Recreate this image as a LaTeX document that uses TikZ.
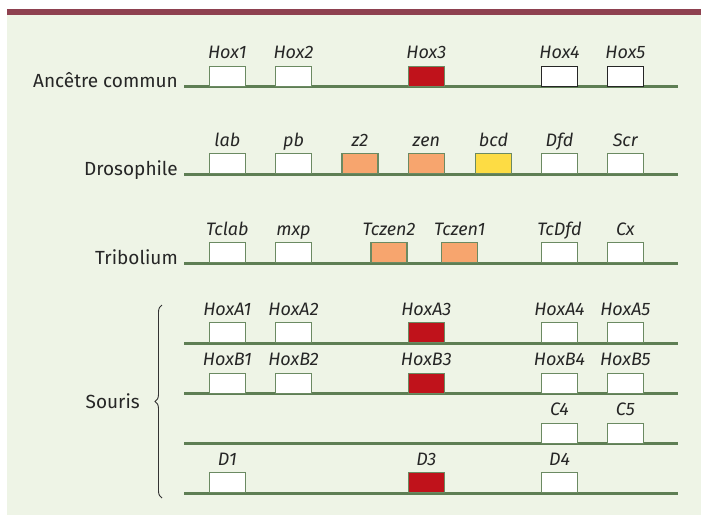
\documentclass[tikz,border=0pt]{standalone}
\usepackage{fontspec}
\setmainfont{Fira Sans}
\usetikzlibrary{decorations.pathreplacing}

\tikzstyle{gene-box}=[draw={box-border}, line width=1.1pt, fill=white, minimum width=36pt, minimum height=20pt, inner sep=0pt, anchor=south]
% gene names: baseline a few points above the box
\tikzstyle{every label}=[font=\itshape\fontsize{18}{18}\selectfont, inner sep=0pt, text depth=0pt, text=black!85, yshift=7pt]
\tikzstyle{row-name}=[font=\fontsize{19}{19}\selectfont, inner sep=0pt, anchor=base east, text=black!85]
\tikzstyle{chromosome}=[draw={chrom-green}, line width=3pt]
\definecolor{page-green}{HTML}{EEF4E6}
\definecolor{top-bar}{HTML}{8E4150}
\definecolor{chrom-green}{HTML}{5E7E54}
\definecolor{box-border}{HTML}{6B8A62}
\definecolor{gene-red}{HTML}{C0121B}
\definecolor{gene-orange}{HTML}{F7A56E}
\definecolor{gene-yellow}{HTML}{FDDC44}

\begin{document}
\begin{tikzpicture}[x=1pt, y=-1pt]
      \useasboundingbox (0, 0) rectangle (701, 515);
      \fill[page-green] (7, 14.7) rectangle (701, 515);
      \fill[top-bar] (7, 9.3) rectangle (701, 14.7);

      % chromosomes
      \foreach \row/\y in {anc/86.7, dros/174.3, trib/263.3, hoxa/343.3, hoxb/393.7, hoxc/443.7, hoxd/493.3} {
        \coordinate (\row-w) at (184, \y);
        \coordinate (\row-e) at (678, \y);
        \draw[chromosome] (\row-w) -- (\row-e);
      }

      % row names
      \node (anc-name) at (178, 87.5) [row-name] {Ancêtre commun};
      \node (dros-name) at (178, 175.1) [row-name] {Drosophile};
      \node (trib-name) at (178, 264.1) [row-name] {Tribolium};
      \node (souris-name) at (140, 408) [row-name] {Souris};
      \draw[black!80, line width=0.9pt, decorate, decoration={brace, amplitude=7pt}]
            (162, 498) -- (162, 305);

      % ancestor
      \node (hox1) at (227.3, 86.7) [gene-box, label=above:{Hox1}] {};
      \node (hox2) at (293.5, 86.7) [gene-box, label=above:{Hox2}] {};
      \node (hox3) at (426.3, 86.7) [gene-box, fill={gene-red}, label=above:{Hox3}] {};
      \node (hox4) at (559.5, 86.7) [gene-box, draw=black!85, label=above:{Hox4}] {};
      \node (hox5) at (625.3, 86.7) [gene-box, draw=black!85, label=above:{Hox5}] {};

      % drosophila
      \node (lab) at (227.3, 174.3) [gene-box, label=above:{lab}] {};
      \node (pb) at (293.5, 174.3) [gene-box, label=above:{pb}] {};
      \node (z2) at (360, 174.3) [gene-box, fill={gene-orange}, label=above:{z2}] {};
      \node (zen) at (426.3, 174.3) [gene-box, fill={gene-orange}, label=above:{zen}] {};
      \node (bcd) at (493.5, 174.3) [gene-box, fill={gene-yellow}, label=above:{bcd}] {};
      \node (dfd) at (559.5, 174.3) [gene-box, label=above:{Dfd}] {};
      \node (scr) at (625.3, 174.3) [gene-box, label=above:{Scr}] {};

      % tribolium
      \node (tclab) at (227.3, 263.3) [gene-box, label=above:{Tclab}] {};
      \node (mxp) at (293.5, 263.3) [gene-box, label=above:{mxp}] {};
      \node (tczen2) at (389, 263.3) [gene-box, fill={gene-orange}, label=above:{Tczen2}] {};
      \node (tczen1) at (459.7, 263.3) [gene-box, fill={gene-orange}, label=above:{Tczen1}] {};
      \node (tcdfd) at (559.5, 263.3) [gene-box, label=above:{TcDfd}] {};
      \node (cx) at (625.3, 263.3) [gene-box, label=above:{Cx}] {};

      % mouse
      \node (hoxa1) at (227.3, 343.3) [gene-box, label=above:{HoxA1}] {};
      \node (hoxa2) at (293.5, 343.3) [gene-box, label=above:{HoxA2}] {};
      \node (hoxa3) at (426.3, 343.3) [gene-box, fill={gene-red}, label=above:{HoxA3}] {};
      \node (hoxa4) at (559.5, 343.3) [gene-box, label=above:{HoxA4}] {};
      \node (hoxa5) at (625.3, 343.3) [gene-box, label=above:{HoxA5}] {};
      \node (hoxb1) at (227.3, 393.7) [gene-box, label=above:{HoxB1}] {};
      \node (hoxb2) at (293.5, 393.7) [gene-box, label=above:{HoxB2}] {};
      \node (hoxb3) at (426.3, 393.7) [gene-box, fill={gene-red}, label=above:{HoxB3}] {};
      \node (hoxb4) at (559.5, 393.7) [gene-box, label=above:{HoxB4}] {};
      \node (hoxb5) at (625.3, 393.7) [gene-box, label=above:{HoxB5}] {};
      \node (c4) at (559.5, 443.7) [gene-box, label=above:{C4}] {};
      \node (c5) at (625.3, 443.7) [gene-box, label=above:{C5}] {};
      \node (d1) at (227.3, 493.3) [gene-box, label=above:{D1}] {};
      \node (d3) at (426.3, 493.3) [gene-box, fill={gene-red}, label=above:{D3}] {};
      \node (d4) at (559.5, 493.3) [gene-box, label=above:{D4}] {};
    \end{tikzpicture}
\end{document}
